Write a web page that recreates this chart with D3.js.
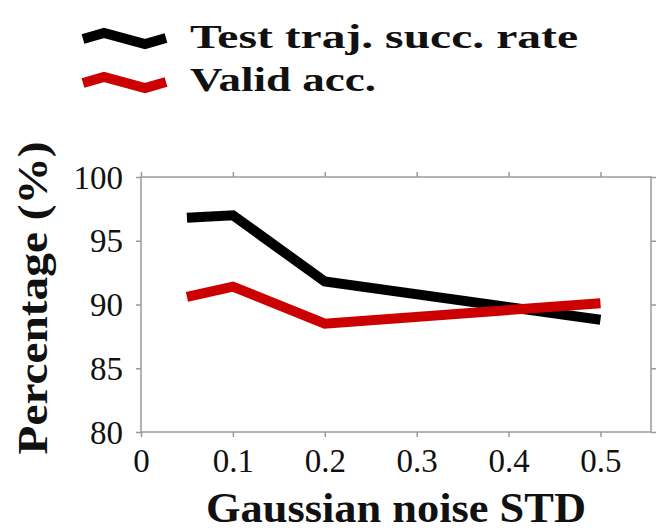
<!DOCTYPE html>
<html><head><meta charset="utf-8">
<script src="https://cdn.jsdelivr.net/npm/d3@7"></script>
<style>
html,body{margin:0;padding:0;background:#fff;}
svg{display:block;}
</style>
</head><body>
<svg id="chart" width="658" height="531"></svg>
<script>
const noiseStd = [0.05, 0.1, 0.2, 0.5];
const testTrajSucc = [96.8, 97.0, 91.8, 88.8];
const validAcc = [90.6, 91.4, 88.5, 90.1];
const xTicks = [0, 0.1, 0.2, 0.3, 0.4, 0.5];
const yTicks = [80, 85, 90, 95, 100];
const seriesNames = ["Test traj. succ. rate", "Valid acc."];
const seriesColors = ["#000000", "#cc0000"];
const xTitle = "Gaussian noise STD";
const yTitle = "Percentage (%)";

const svg = d3.select("#chart");
const m = {left:141, right:651, top:177, bottom:432};
const x = d3.scaleLinear().domain([0, 0.555]).range([m.left, m.right]);
const y = d3.scaleLinear().domain([80, 100]).range([m.bottom, m.top]);

const axisColor = "#9a9a9a";
const tickFont = "'Liberation Serif', 'Times New Roman', serif";
const boldFont = "'Liberation Serif', 'Times New Roman', serif";

// frame
svg.append("rect").attr("x", m.left).attr("y", m.top)
  .attr("width", m.right - m.left).attr("height", m.bottom - m.top)
  .attr("fill", "none").attr("stroke", axisColor).attr("stroke-width", 1.5);

function styleAxis(g){
  g.select(".domain").remove();
  g.selectAll(".tick line").attr("stroke", axisColor).attr("stroke-width", 1.5);
}
const xb = svg.append("g").attr("transform", `translate(0,${m.bottom})`)
  .call(d3.axisBottom(x).tickValues(xTicks).tickSize(5).tickPadding(12).tickFormat(d => d === 0 ? "0" : d3.format(".1f")(d)));
styleAxis(xb);
xb.selectAll("text").attr("font-family", tickFont).attr("font-size", 33).attr("fill", "#111");
const xt = svg.append("g").attr("transform", `translate(0,${m.top})`)
  .call(d3.axisTop(x).tickValues(xTicks).tickSize(5).tickFormat(""));
styleAxis(xt);
const yl = svg.append("g").attr("transform", `translate(${m.left},0)`)
  .call(d3.axisLeft(y).tickValues(yTicks).tickSize(5).tickPadding(13));
styleAxis(yl);
yl.selectAll("text").attr("font-family", tickFont).attr("font-size", 33).attr("fill", "#111").attr("dy", "0.34em");
const yr = svg.append("g").attr("transform", `translate(${m.right},0)`)
  .call(d3.axisRight(y).tickValues(yTicks).tickSize(5).tickFormat(""));
styleAxis(yr);

// lines
const line = d3.line().x(d => x(d[0])).y(d => y(d[1]));
[testTrajSucc, validAcc].forEach((vals, i) => {
  svg.append("path").datum(noiseStd.map((v, j) => [v, vals[j]]))
    .attr("d", line).attr("fill", "none").attr("stroke", seriesColors[i])
    .attr("stroke-width", 10).attr("stroke-linejoin", "miter").attr("stroke-linecap", "butt");
});

// titles
svg.append("text").attr("x", (m.left + m.right) / 2).attr("y", 522)
  .attr("text-anchor", "middle").attr("font-family", boldFont).attr("font-weight", "bold")
  .attr("font-size", 42).attr("textLength", 380).attr("lengthAdjust", "spacingAndGlyphs")
  .attr("fill", "#111").text(xTitle);
svg.append("text").attr("transform", "translate(47,298) rotate(-90)")
  .attr("text-anchor", "middle").attr("font-family", boldFont).attr("font-weight", "bold")
  .attr("font-size", 42).attr("textLength", 313).attr("lengthAdjust", "spacingAndGlyphs")
  .attr("fill", "#111").text(yTitle);

// legend
const legendShape = [[0, 0], [21, -6], [62, 5], [83, -1]];
const legendY = [39, 83];
const legendTextY = [48, 91];
const legendTextLen = [388, 186];
seriesNames.forEach((name, i) => {
  svg.append("path").datum(legendShape)
    .attr("d", d3.line().x(d => 83 + d[0]).y(d => legendY[i] + d[1]))
    .attr("fill", "none").attr("stroke", seriesColors[i]).attr("stroke-width", 10)
    .attr("stroke-linejoin", "miter").attr("stroke-linecap", "butt");
  svg.append("text").attr("x", 190).attr("y", legendTextY[i])
    .attr("font-family", boldFont).attr("font-weight", "bold").attr("font-size", 34)
    .attr("textLength", legendTextLen[i]).attr("lengthAdjust", "spacingAndGlyphs")
    .attr("fill", "#111").text(name);
});
</script>
</body></html>
